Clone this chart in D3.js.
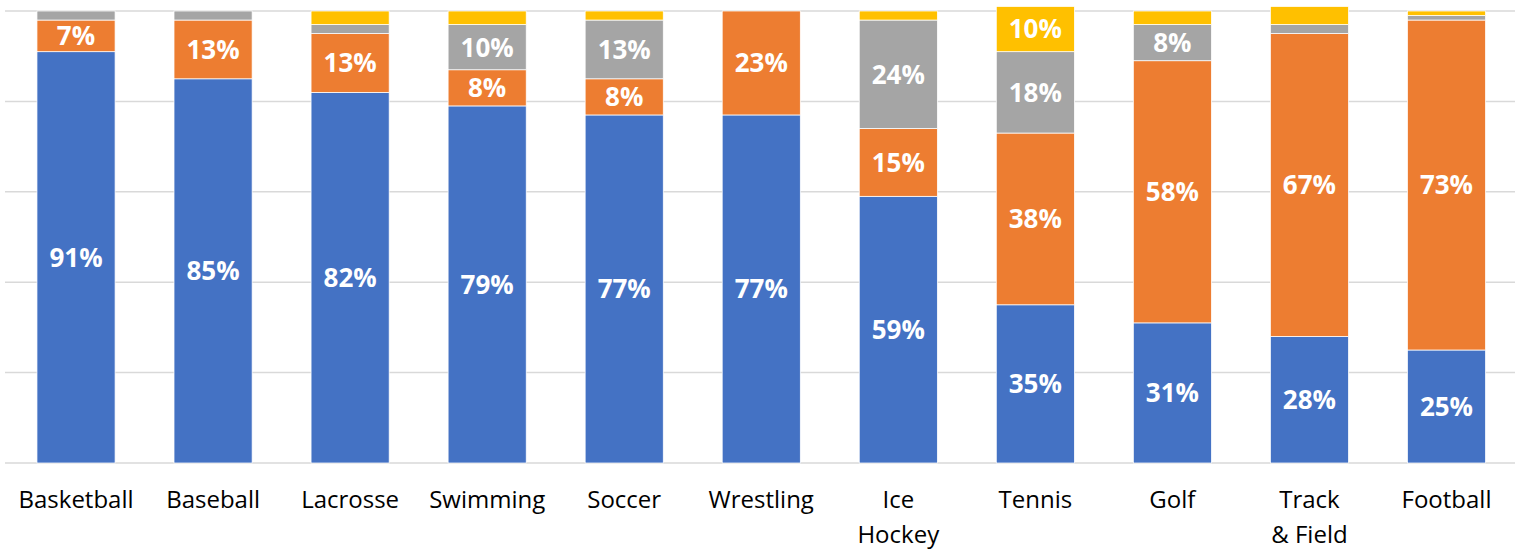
<!DOCTYPE html>
<html>
<head>
<meta charset="utf-8">
<script src="https://cdn.jsdelivr.net/npm/d3@7.9.0/dist/d3.min.js"></script>
<style>
  body { margin: 0; background: #fff; }
  svg { display: block; }
</style>
</head>
<body>
<svg id="chart" width="1525" height="549"></svg>
<script>
const categories = ['Basketball', 'Baseball', 'Lacrosse', 'Swimming', 'Soccer', 'Wrestling',
  'Ice Hockey', 'Tennis', 'Golf', 'Track & Field', 'Football'];
const tickLabels = ['Basketball', 'Baseball', 'Lacrosse', 'Swimming', 'Soccer', 'Wrestling',
  'Ice\nHockey', 'Tennis', 'Golf', 'Track\n& Field', 'Football'];

const blueSeries = [91, 85, 82, 79, 77, 77, 59, 35, 31, 28, 25];
const orangeSeries = [7, 13, 13, 8, 8, 23, 15, 38, 58, 67, 73];
const graySeries = [2, 2, 2, 10, 13, 0, 24, 18, 8, 2, 1];
const yellowSeries = [0, 0, 3, 3, 2, 0, 2, 10, 3, 4, 1];

const gridTicks = [0, 20, 40, 60, 80, 100];

const seriesKeys = ['blue', 'orange', 'gray', 'yellow'];
const colors = d3.scaleOrdinal()
  .domain(seriesKeys)
  .range(['#4472C4', '#ED7D31', '#A5A5A5', '#FFC000']);

// rows for the stack layout
const rows = categories.map((c, i) => ({
  category: c,
  blue: blueSeries[i],
  orange: orangeSeries[i],
  gray: graySeries[i],
  yellow: yellowSeries[i]
}));

const svg = d3.select('#chart');

const x = d3.scaleBand()
  .domain(categories)
  .range([7.5, 1515])
  .paddingInner(0.43)
  .paddingOuter(0.215);

const y = d3.scaleLinear()
  .domain([0, 100])
  .range([463, 11]);

// gridlines
svg.append('g')
  .selectAll('line')
  .data(gridTicks)
  .join('line')
  .attr('x1', 5)
  .attr('x2', 1515)
  .attr('y1', (d) => y(d))
  .attr('y2', (d) => y(d))
  .attr('stroke', '#d9d9d9')
  .attr('stroke-width', 1.5);

const stacked = d3.stack().keys(seriesKeys)(rows);

const layers = svg.append('g')
  .selectAll('g')
  .data(stacked)
  .join('g')
  .attr('fill', (d) => colors(d.key));

layers.selectAll('rect')
  .data((d) => d.filter((s) => s[1] - s[0] > 0))
  .join('rect')
  .attr('x', (d) => x(d.data.category))
  .attr('width', x.bandwidth())
  .attr('y', (d) => y(d[1]))
  .attr('height', (d) => y(d[0]) - y(d[1]))
  .attr('stroke', '#fff')
  .attr('stroke-width', 0.75);

// value labels inside segments
layers.selectAll('text')
  .data((d) => d.filter((s) => s[1] - s[0] >= 5))
  .join('text')
  .attr('x', (d) => x(d.data.category) + x.bandwidth() / 2)
  .attr('y', (d) => (y(d[0]) + y(d[1])) / 2)
  .attr('dy', '0.36em')
  .attr('text-anchor', 'middle')
  .attr('fill', '#fff')
  .attr('font-family', 'Open Sans, sans-serif')
  .attr('font-weight', 'bold')
  .attr('font-size', 26)
  .text((d) => `${d[1] - d[0]}%`);

// category axis
const xAxis = svg.append('g')
  .attr('transform', `translate(0, ${y(0)})`)
  .call(d3.axisBottom(x).tickSize(0).tickPadding(0));
xAxis.select('.domain').remove();

xAxis.selectAll('.tick text')
  .attr('fill', '#000')
  .attr('font-family', 'Open Sans, sans-serif')
  .attr('font-size', 24)
  .attr('dy', null)
  .attr('y', 0)
  .text(null)
  .each(function (d, i) {
    const lines = tickLabels[i].split('\n');
    d3.select(this)
      .selectAll('tspan')
      .data(lines)
      .join('tspan')
      .attr('x', 0)
      .attr('y', (l, j) => 45 + j * 35)
      .text((l) => l);
  });
</script>
</body>
</html>
